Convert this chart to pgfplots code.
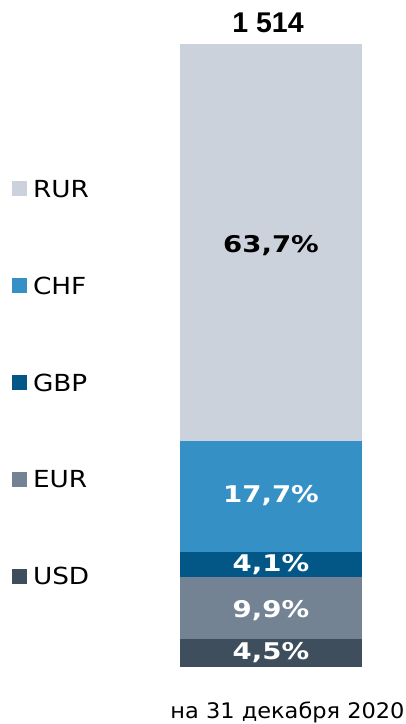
\documentclass[border=0pt]{standalone}
\usepackage{pgfplots}
\pgfplotsset{compat=1.18}
\usepackage{fontspec}
\setmainfont{DejaVu Sans}
\newfontfamily\regf[FakeStretch=1.12]{DejaVu Sans}
\newfontfamily\botf[FakeStretch=1.05]{DejaVu Sans}
\newfontfamily\boldf[FakeStretch=1.2]{DejaVu Sans}
\newfontfamily\titlef{Liberation Sans}
\definecolor{cRUR}{HTML}{CBD2DC}
\definecolor{cCHF}{HTML}{3591C5}
\definecolor{cGBP}{HTML}{035787}
\definecolor{cEUR}{HTML}{738394}
\definecolor{cUSD}{HTML}{3E4E5D}
\tikzset{lab/.style={inner sep=0pt, text height=16.8pt, text depth=0pt, anchor=center,
  font=\boldf\bfseries\fontsize{23}{23}\selectfont}}
\begin{document}
\begin{tikzpicture}
\useasboundingbox (0,0) rectangle (406pt,724pt);
\begin{axis}[
  anchor=south west, at={(0,0)},
  scale only axis, width=406pt, height=724pt,
  xmin=0, xmax=406, ymin=-9.140, ymax=106.96,
  hide axis, clip=false,
  ybar stacked, bar width=182,
  reverse legend,
  legend cell align=left,
  legend image code/.code={\fill[#1] (0pt,-7.5pt) rectangle (15pt,7.5pt);},
  legend style={at={(axis description cs:0.02956,0.7507)}, anchor=north west,
    draw=none, fill=none, inner sep=0pt, outer sep=0pt,
    row sep=79.8pt, column sep=6pt,
    nodes={inner sep=0pt, outer sep=0pt, text height=17pt, text depth=0pt,
      font=\regf\fontsize{23.5}{23.5}\selectfont}},
]
\addplot[fill=cUSD, draw=none] coordinates {(271,4.5)};
\addplot[fill=cEUR, draw=none] coordinates {(271,9.9)};
\addplot[fill=cGBP, draw=none] coordinates {(271,4.1)};
\addplot[fill=cCHF, draw=none] coordinates {(271,17.7)};
\addplot[fill=cRUR, draw=none] coordinates {(271,63.7)};
\legend{USD,EUR,GBP,CHF,RUR}
\coordinate (lUSD) at (axis cs:271,2.57);
\coordinate (lEUR) at (axis cs:271,9.30);
\coordinate (lGBP) at (axis cs:271,16.73);
\coordinate (lCHF) at (axis cs:271,27.74);
\coordinate (lRUR) at (axis cs:271,67.75);
\node[anchor=base, inner sep=0pt, font=\titlef\bfseries\fontsize{28.5}{28.5}\selectfont] at (axis cs:268,101.78) {1 514};
\node[anchor=base, inner sep=0pt, font=\botf\fontsize{21.4}{21.4}\selectfont] at (axis cs:287.5,-8.23) {на 31 декабря 2020};
\end{axis}
\node[lab, text=white] at (lUSD) {4,5\%};
\node[lab, text=white] at (lEUR) {9,9\%};
\node[lab, text=white] at (lGBP) {4,1\%};
\node[lab, text=white] at (lCHF) {17,7\%};
\node[lab, text=black] at (lRUR) {63,7\%};
\end{tikzpicture}
\end{document}
